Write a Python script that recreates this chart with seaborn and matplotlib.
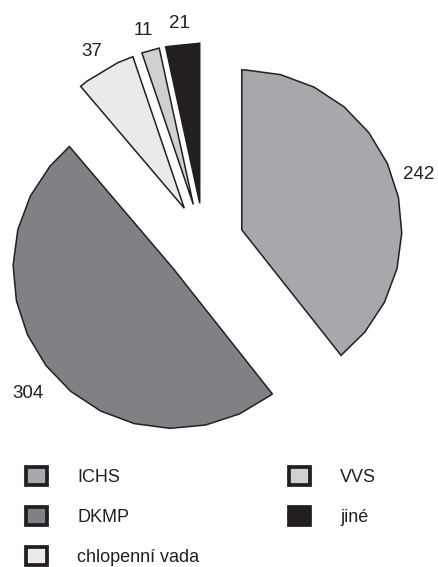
import numpy as np
import matplotlib.pyplot as plt
import matplotlib.transforms as mtransforms
import seaborn as sns
from matplotlib.patches import Patch, Polygon

# data
categories = ['ICHS', 'DKMP', 'chlopenní vada', 'VVS', 'jiné']
counts = [242, 304, 37, 11, 21]
colors = ['#a7a8ab', '#808185', '#e9eaec', '#cfd0d2', '#231f20']

sns.set_theme(style='white')
plt.rcParams['font.family'] = ['Liberation Sans', 'DejaVu Sans']

W, H = 438, 567
fig = plt.figure(figsize=(W / 100, H / 100), dpi=100)
ax = fig.add_axes([0, 0, 1, 1])

total = sum(counts)
wedges, texts, autotexts = ax.pie(
    counts, colors=colors, startangle=90, counterclock=False,
    explode=[0.25] * len(counts), radius=1,
    autopct=lambda p: f'{round(p * total / 100)}', pctdistance=1.17,
    wedgeprops=dict(edgecolor='#231f20', linewidth=1.1),
    textprops=dict(fontsize=13.5, color='#231f20'))

# glyphs sit a little lower than matplotlib's bbox centre
for t in autotexts:
    t.set_transform(mtransforms.offset_copy(t.get_transform(), fig, y=-6, units='dots'))

# the original draws the arcs as coarse polygons - rebuild each wedge that way
step = 360 / 28
for w in wedges:
    cx, cy = w.center
    angs = np.arange(11.7 - 360, 360, step)
    angs = angs[(angs > w.theta1) & (angs < w.theta2)]
    angs = np.concatenate([[w.theta1], angs, [w.theta2]])
    pts = [(cx, cy)] + [(cx + w.r * np.cos(np.radians(a)), cy + w.r * np.sin(np.radians(a)))
                        for a in angs]
    ax.add_patch(Polygon(pts, closed=True, facecolor=w.get_facecolor(),
                         edgecolor='#231f20', linewidth=1.1, joinstyle='miter'))
    w.set_visible(False)

# pie centre at about (204, 243) px, radius 160 px
scale = 160
ax.set_xlim(-204 / scale, (W - 204) / scale)
ax.set_ylim(-(H - 243) / scale, 243 / scale)
ax.set_aspect('equal')
ax.axis('off')

handles = [Patch(facecolor=c, edgecolor='#231f20', linewidth=2.7, joinstyle='miter')
           for c in colors]
fig.legend(handles, categories, ncol=2, loc='upper left',
           bbox_to_anchor=(25.85 / W, 1 - 466.85 / H), frameon=False,
           borderpad=0, borderaxespad=0, fontsize=13,
           handlelength=1.18, handleheight=1.18, handletextpad=1.66,
           labelspacing=1.15, columnspacing=4.95, labelcolor='#231f20')

fig.savefig('out.png', dpi=100, facecolor='white')
